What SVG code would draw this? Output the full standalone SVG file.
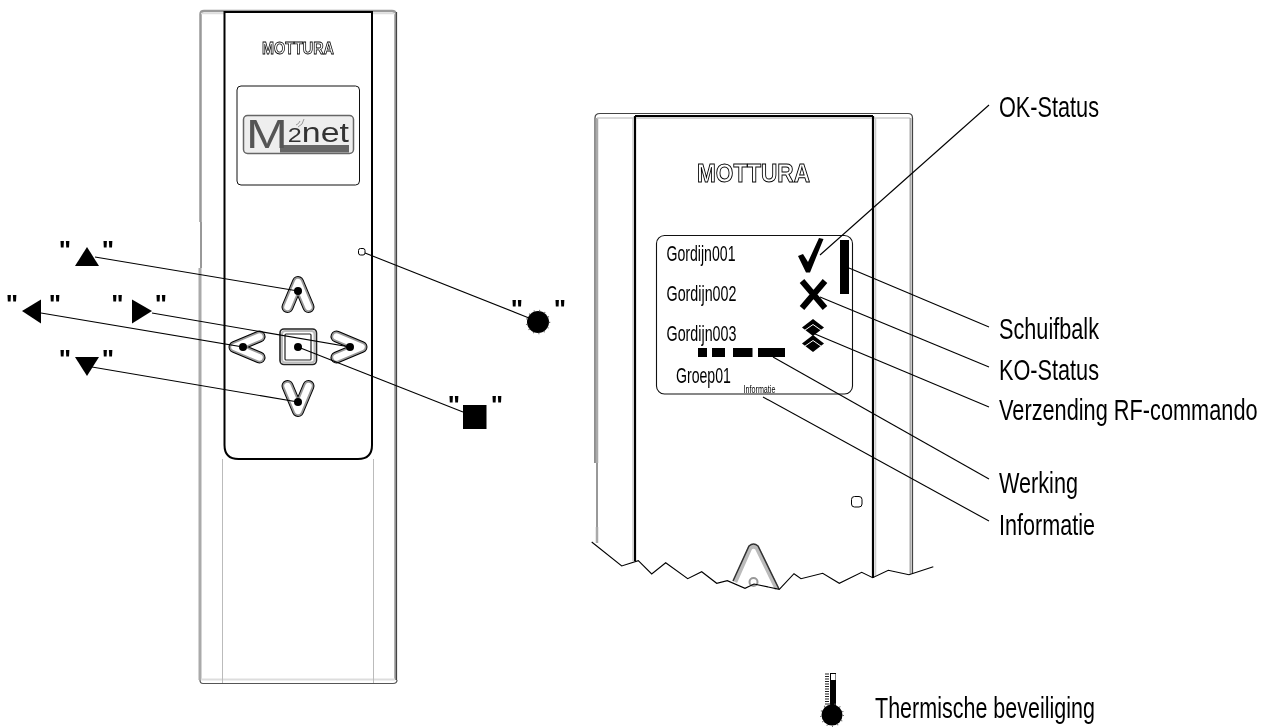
<svg xmlns="http://www.w3.org/2000/svg" width="1271" height="728" viewBox="0 0 1271 728">
<style>
text{font-family:"Liberation Sans",Arial,sans-serif;fill:#000}
.lab{font-size:30px}
.disp{font-size:22px}
.q{font-size:26px;text-anchor:middle;font-weight:bold}
.logo{font-weight:bold;fill:#fff;stroke:#000;stroke-width:.8}
.conn line{stroke:#000;stroke-width:1.1;fill:none}
.f{fill:none;stroke-linejoin:round}
.dot{fill:#000}
.spk{fill:none;stroke:#666;stroke-width:1.500;stroke-dasharray:1 4.500}
</style>
<defs>
<filter id="flat" filterUnits="userSpaceOnUse" x="0" y="0" width="1271" height="728" color-interpolation-filters="sRGB"><feOffset dx="0" dy="0"/></filter>
<g id="chev">
<polyline class="f" points="-10.5,16 0,-9 10.5,16" stroke="#000" stroke-width="12" stroke-linecap="round"/>
<polyline class="f" points="-10.5,16 0,-9 10.5,16" stroke="#999" stroke-width="10" stroke-linecap="round"/>
<polyline class="f" points="-10.5,16 0,-9 10.5,16" stroke="#fff" stroke-width="6.500" stroke-linecap="round"/>
</g>
</defs>
<rect width="1271" height="728" fill="#fff"/>
<g filter="url(#flat)">

<g id="remote">
<path d="M200.500 222V14Q200.500 11 204 11H392Q395.500 11 395.500 14V680" fill="none" stroke="#999" stroke-width="2.500"/>
<path d="M200 268V680" fill="none" stroke="#aaa" stroke-width="3"/>
<path d="M201 222V268" fill="none" stroke="#333" stroke-width="1"/>
<path d="M396.500 12V680" fill="none" stroke="#444" stroke-width="1.200"/>
<path d="M201 13.500H395" stroke="#ddd" stroke-width="1.500"/>
<path d="M200 680Q200 683.500 203 683.500H393Q397 683.500 397 680" fill="none" stroke="#555" stroke-width="1.200"/>
<path d="M201 679.500H395" stroke="#ddd" stroke-width="2"/>
<path d="M222.500 459V683M373.500 459V683" stroke="#bbb" stroke-width="1"/>
<path d="M224.500 12V445Q224.500 459 238.500 459H358Q372 459 372 445V12Z" fill="#fff" stroke="#000" stroke-width="2"/>
<text class="logo" x="298" y="53.500" font-size="16" text-anchor="middle" textLength="72" lengthAdjust="spacingAndGlyphs">MOTTURA</text>
<rect x="237" y="86" width="122.500" height="99" rx="4" fill="#fff" stroke="#111" stroke-width="1"/>
<rect x="243.500" y="115.500" width="110" height="38" rx="4" fill="#eee" stroke="#666" stroke-width="1.500"/>
<rect x="280" y="145" width="69" height="7.500" fill="#666"/>
<text x="246" y="148" font-size="40" textLength="103" lengthAdjust="spacingAndGlyphs" style="fill:#555">M<tspan font-size="20" dy="-6" style="fill:#333">2</tspan><tspan font-size="27" style="fill:#333">net</tspan></text>
<path d="M296 125Q299 124 300 121M298 127Q303 125 304 119" fill="none" stroke="#999" stroke-width="1"/>
<rect x="358.500" y="248.500" width="6.500" height="6.500" rx="2" fill="#fff" stroke="#000" stroke-width="1"/>
</g>

<g id="btn-up"><use href="#chev" transform="translate(298 291)"/></g>
<g id="btn-down"><use href="#chev" transform="translate(298 402) rotate(180)"/></g>
<g id="btn-left"><use href="#chev" transform="translate(243.500 347) rotate(-90)"/></g>
<g id="btn-right"><use href="#chev" transform="translate(352.500 347) rotate(90)"/></g>
<g id="btn-center">
<rect x="280" y="329" width="36.500" height="35.500" rx="4" fill="#fff" stroke="#222" stroke-width="1.600"/>
<rect x="282" y="331" width="32.500" height="31.500" rx="3" fill="none" stroke="#bbb" stroke-width="2"/>
<rect x="285" y="334" width="26" height="26" rx="1" fill="#fff" stroke="#222" stroke-width="1.200"/>
</g>

<g id="legend-up"><polygon points="87,247 99,266 75,266"/><text class="q" x="65" y="258.500">"</text><text class="q" x="108" y="258.500">"</text></g>
<g id="legend-left"><polygon points="22,311 41,299.500 41,323.500"/><text class="q" x="12" y="312.500">"</text><text class="q" x="55" y="312.500">"</text></g>
<g id="legend-right"><polygon points="152,311 132,299.500 132,323.500"/><text class="q" x="117.500" y="312.500">"</text><text class="q" x="161" y="312.500">"</text></g>
<g id="legend-down"><polygon points="75,357 99,357 87,376"/><text class="q" x="65" y="367.500">"</text><text class="q" x="108" y="367.500">"</text></g>
<g id="legend-circle"><circle cx="538" cy="322" r="11"/><circle class="spk" cx="538" cy="322" r="11.500"/><text class="q" x="517" y="317.500">"</text><text class="q" x="560" y="317.500">"</text></g>
<g id="legend-square"><rect x="463" y="405" width="23.500" height="24"/><text class="q" x="454" y="413.500">"</text><text class="q" x="497" y="413.500">"</text></g>

<g id="receiver">
<path d="M595 463V118Q595 113.500 600 113.500H908Q912.500 113.500 912.500 118V574" fill="none" stroke="#444" stroke-width="1.200"/>
<path d="M597 118V463M597 527V543" stroke="#aaa" stroke-width="2.500"/>
<path d="M597 463V527" stroke="#333" stroke-width="1"/>
<path d="M597 118H910" stroke="#ccc" stroke-width="1.500"/>
<path d="M910.500 118V574" stroke="#aaa" stroke-width="2"/>
<path d="M635 116V561M873 116V578" stroke="#000" stroke-width="2.200"/>
<path d="M633 118V561M875.500 118V576" stroke="#ccc" stroke-width="1.500"/>
<path d="M635 116H873" stroke="#000" stroke-width="2"/>
<path d="M636 118H872" stroke="#ccc" stroke-width="1"/>
<text class="logo" x="753.500" y="182" font-size="26" text-anchor="middle" textLength="113" lengthAdjust="spacingAndGlyphs" style="stroke-width:1">MOTTURA</text>
<rect x="851.500" y="496.500" width="10.500" height="10.500" rx="3" fill="#fff" stroke="#000" stroke-width="1"/>
<path d="M735 582L750 548Q753.500 545 757 548L777 589" fill="none" stroke="#bbb" stroke-width="4.500"/>
<path d="M733 581L749 546Q753.500 542 758 546L779 589" fill="none" stroke="#333" stroke-width="1.500"/>
<circle cx="753.500" cy="582" r="4" fill="#fff" stroke="#999" stroke-width="2"/>
<polyline fill="none" stroke="#000" stroke-width="1.100" points="591.700,542 621.700,566 638.300,560.700 651.700,574 665.700,562.700 687.700,578.700 701.700,571.700 716.700,583.300 727.300,580.700 745,588.300 754,584 779.300,589.300 794,573.700 801,578.700 822.700,573.300 839.300,583.300 861.700,572.300 872.700,577.700 888.300,570.300 909,574.700 933.300,566.700"/>
</g>

<g id="display">
<rect x="656.500" y="235.500" width="196" height="158.500" rx="8" fill="#fff" stroke="#111" stroke-width="1.100"/>
<text class="disp" x="666.500" y="260.500" textLength="69" lengthAdjust="spacingAndGlyphs">Gordijn001</text>
<text class="disp" x="666.500" y="301" textLength="70" lengthAdjust="spacingAndGlyphs">Gordijn002</text>
<text class="disp" x="666.500" y="341" textLength="70" lengthAdjust="spacingAndGlyphs">Gordijn003</text>
<text class="disp" transform="translate(676 382.500) scale(.642 1)">Groep01</text>
<text font-size="11" transform="translate(743.500 393) scale(.654 1)">Informatie</text>
<polygon points="798,256 803,254 808,262 819,238 823.500,239 810,272.500 806,272.500"/>
<path d="M802 281L825 308M825 281L802 308" stroke="#000" stroke-width="6" fill="none"/>
<rect x="840" y="240" width="9" height="54"/>
<polygon points="813,319 824,327.500 813,336 802,327.500"/>
<polygon points="813,335 824,343.500 813,352 802,343.500"/>
<path d="M803 331.500L813 324.500L823 331.500M803 347.500L813 340.500L823 347.500" fill="none" stroke="#fff" stroke-width="1"/>
<rect x="698" y="348" width="9" height="9"/>
<rect x="712" y="348" width="13" height="9"/>
<rect x="733" y="348" width="19.500" height="9"/>
<rect x="758" y="348" width="27" height="9"/>
</g>

<g id="connectors" class="conn">
<line x1="95" y1="257" x2="298" y2="291"/>
<line x1="41" y1="313" x2="243" y2="347"/>
<line x1="152" y1="313" x2="350" y2="347"/>
<line x1="92" y1="367" x2="298" y2="402"/>
<line x1="298" y1="347" x2="463" y2="412"/>
<line x1="365" y1="253" x2="529" y2="318"/>
<line x1="820" y1="255" x2="989" y2="105"/>
<line x1="849" y1="268" x2="989" y2="327"/>
<line x1="820" y1="297" x2="989" y2="367"/>
<line x1="815" y1="334" x2="989" y2="407"/>
<line x1="773" y1="357" x2="989" y2="479"/>
<line x1="763" y1="397" x2="989" y2="521"/>
</g>
<g id="dots">
<circle class="dot" cx="298" cy="291" r="4"/>
<circle class="dot" cx="298" cy="402" r="4"/>
<circle class="dot" cx="243" cy="347" r="4"/>
<circle class="dot" cx="350" cy="347" r="4"/>
<circle class="dot" cx="298" cy="347" r="4"/>
</g>

<g id="labels">
<text class="lab" x="999" y="117" textLength="100" lengthAdjust="spacingAndGlyphs">OK-Status</text>
<text class="lab" x="999" y="339" textLength="100" lengthAdjust="spacingAndGlyphs">Schuifbalk</text>
<text class="lab" x="999" y="380" textLength="100" lengthAdjust="spacingAndGlyphs">KO-Status</text>
<text class="lab" transform="translate(999 420) scale(.725 1)">Verzending RF-commando</text>
<text class="lab" x="999" y="493" textLength="79" lengthAdjust="spacingAndGlyphs">Werking</text>
<text class="lab" x="999" y="535" textLength="96" lengthAdjust="spacingAndGlyphs">Informatie</text>
</g>

<g id="thermal">
<rect x="830" y="673" width="6" height="35" fill="#000"/>
<rect x="831" y="674" width="4.500" height="6" fill="#fff"/>
<path d="M827 673.500V706" stroke="#222" stroke-width="4" stroke-dasharray="1 1.500" fill="none"/>
<circle cx="832" cy="715" r="10.500"/>
<circle class="spk" cx="832" cy="715" r="11.200"/>
<text class="lab" x="875" y="718" textLength="220" lengthAdjust="spacingAndGlyphs">Thermische beveiliging</text>
</g>
</g>
</svg>
